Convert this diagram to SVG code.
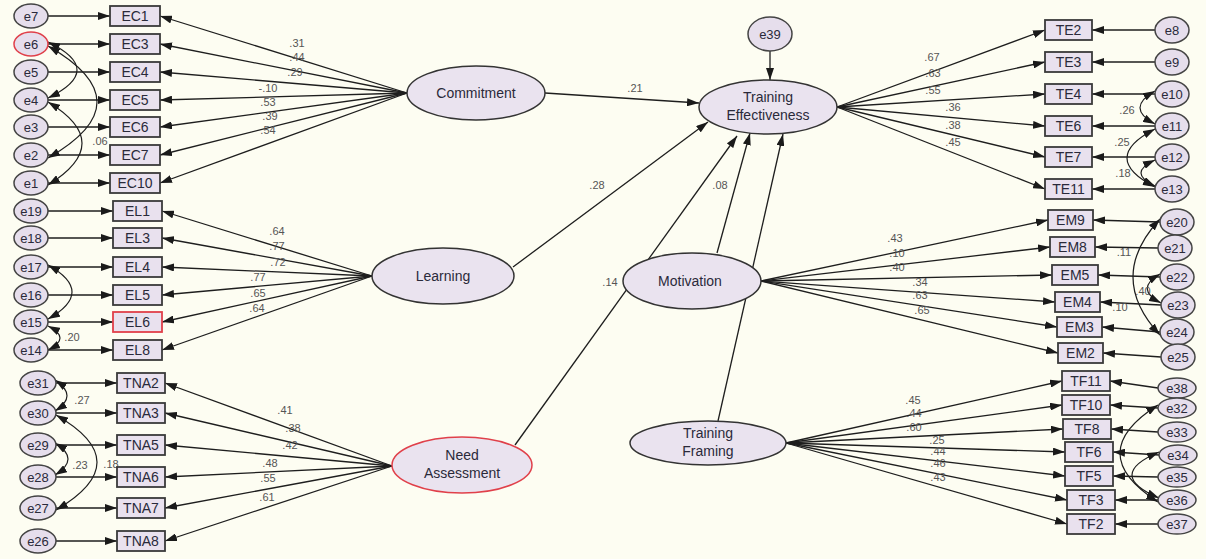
<svg xmlns="http://www.w3.org/2000/svg" width="1206" height="559" viewBox="0 0 1206 559">
<defs>
<marker id="ah" markerUnits="userSpaceOnUse" markerWidth="12" markerHeight="8" refX="12" refY="4" orient="auto-start-reverse"><path d="M0,0 L12,4 L0,8 z" fill="#1a1a1a"/></marker>
<style>
.ln{stroke:#1e1e1e;stroke-width:1.3;fill:none;marker-end:url(#ah)}
.cv{stroke:#1e1e1e;stroke-width:1.2;fill:none;marker-start:url(#ah);marker-end:url(#ah)}
.box{fill:#E9E1EE;stroke:#3a3a3a;stroke-width:1.8}
.lat{fill:#EAE3EF;stroke:#333;stroke-width:1.5}
.err{fill:#E6DEEC;stroke:#444;stroke-width:1.5}
.red{stroke:#E0404A}
text{font-family:"Liberation Sans",Arial,sans-serif;text-anchor:middle;fill:#2a2a3a}
.t{font-size:14px}
.et{font-size:13px}
.c{font-size:11px;fill:#555}
</style>
</defs>
<rect width="1206" height="559" fill="#FDFDF2"/>

<g id="connectors">
<!-- EC errors -->
<line class="ln" x1="48" y1="16" x2="110" y2="16"/>
<line class="ln" x1="48" y1="44" x2="110" y2="44"/>
<line class="ln" x1="48" y1="72" x2="110" y2="72"/>
<line class="ln" x1="48" y1="100" x2="110" y2="100"/>
<line class="ln" x1="48" y1="127" x2="110" y2="127"/>
<line class="ln" x1="48" y1="155" x2="110" y2="155"/>
<line class="ln" x1="48" y1="183" x2="110" y2="183"/>
<!-- EC loadings -->
<line class="ln" x1="407" y1="93" x2="160" y2="16"/>
<line class="ln" x1="407" y1="93" x2="160" y2="44"/>
<line class="ln" x1="407" y1="93" x2="160" y2="72"/>
<line class="ln" x1="407" y1="93" x2="160" y2="100"/>
<line class="ln" x1="407" y1="93" x2="160" y2="127"/>
<line class="ln" x1="407" y1="93" x2="160" y2="155"/>
<line class="ln" x1="407" y1="93" x2="160" y2="183"/>
<path class="cv" d="M48,42 Q106,70 48,98"/>
<path class="cv" d="M48,46 Q146,102 48,158"/>
<path class="cv" d="M48,102 Q116,143 48,185"/>
<!-- EL errors -->
<line class="ln" x1="48" y1="211" x2="113" y2="211"/>
<line class="ln" x1="48" y1="238" x2="113" y2="238"/>
<line class="ln" x1="48" y1="267" x2="113" y2="267"/>
<line class="ln" x1="48" y1="295" x2="113" y2="295"/>
<line class="ln" x1="48" y1="322" x2="113" y2="322"/>
<line class="ln" x1="48" y1="350" x2="113" y2="350"/>
<line class="ln" x1="372" y1="276" x2="162" y2="211"/>
<line class="ln" x1="372" y1="276" x2="162" y2="238"/>
<line class="ln" x1="372" y1="276" x2="162" y2="267"/>
<line class="ln" x1="372" y1="276" x2="162" y2="295"/>
<line class="ln" x1="372" y1="276" x2="162" y2="322"/>
<line class="ln" x1="372" y1="276" x2="162" y2="350"/>
<path class="cv" d="M48,265 Q96,292 48,319"/>
<path class="cv" d="M48,326 Q72,338 48,350"/>
<!-- TNA errors -->
<line class="ln" x1="56" y1="383" x2="117" y2="383"/>
<line class="ln" x1="56" y1="413" x2="117" y2="413"/>
<line class="ln" x1="56" y1="445" x2="117" y2="445"/>
<line class="ln" x1="56" y1="477" x2="117" y2="477"/>
<line class="ln" x1="56" y1="508" x2="117" y2="508"/>
<line class="ln" x1="56" y1="541" x2="117" y2="541"/>
<line class="ln" x1="392" y1="466" x2="165" y2="383"/>
<line class="ln" x1="392" y1="466" x2="165" y2="413"/>
<line class="ln" x1="392" y1="466" x2="165" y2="445"/>
<line class="ln" x1="392" y1="466" x2="165" y2="477"/>
<line class="ln" x1="392" y1="466" x2="165" y2="508"/>
<line class="ln" x1="392" y1="466" x2="165" y2="541"/>
<path class="cv" d="M55,380 Q79,396 55,411"/>
<path class="cv" d="M55,443 Q81,459 55,475"/>
<path class="cv" d="M56,415 Q138,462 56,510"/>
<!-- structural -->
<line class="ln" x1="770" y1="51" x2="770" y2="80"/>
<line class="ln" x1="545" y1="93" x2="699" y2="103"/>
<line class="ln" x1="513" y1="267" x2="708" y2="122"/>
<line class="ln" x1="515" y1="445" x2="737" y2="136"/>
<line class="ln" x1="717" y1="253" x2="750" y2="133"/>
<line class="ln" x1="718" y1="421" x2="783" y2="134"/>
<!-- TE -->
<line class="ln" x1="837" y1="107" x2="1045" y2="30"/>
<line class="ln" x1="837" y1="107" x2="1045" y2="62"/>
<line class="ln" x1="837" y1="107" x2="1045" y2="94"/>
<line class="ln" x1="837" y1="107" x2="1045" y2="126"/>
<line class="ln" x1="837" y1="107" x2="1045" y2="157"/>
<line class="ln" x1="837" y1="107" x2="1045" y2="189"/>
<line class="ln" x1="1155" y1="30" x2="1092" y2="30"/>
<line class="ln" x1="1155" y1="62" x2="1092" y2="62"/>
<line class="ln" x1="1155" y1="94" x2="1092" y2="94"/>
<line class="ln" x1="1155" y1="126" x2="1092" y2="126"/>
<line class="ln" x1="1155" y1="157" x2="1092" y2="157"/>
<line class="ln" x1="1155" y1="189" x2="1092" y2="189"/>
<path class="cv" d="M1155,91 Q1125,108 1155,124"/>
<path class="cv" d="M1155,129 Q1099,158 1155,187"/>
<path class="cv" d="M1155,160 Q1127,173 1155,186"/>
<!-- EM -->
<line class="ln" x1="761" y1="281" x2="1048" y2="220"/>
<line class="ln" x1="761" y1="281" x2="1050" y2="247"/>
<line class="ln" x1="761" y1="281" x2="1052" y2="275"/>
<line class="ln" x1="761" y1="281" x2="1055" y2="302"/>
<line class="ln" x1="761" y1="281" x2="1057" y2="327"/>
<line class="ln" x1="761" y1="281" x2="1058" y2="353"/>
<line class="ln" x1="1160" y1="222" x2="1093" y2="220"/>
<line class="ln" x1="1158" y1="248" x2="1095" y2="247"/>
<line class="ln" x1="1160" y1="277" x2="1098" y2="275"/>
<line class="ln" x1="1161" y1="305" x2="1100" y2="302"/>
<line class="ln" x1="1160" y1="332" x2="1102" y2="327"/>
<line class="ln" x1="1161" y1="357" x2="1103" y2="353"/>
<path class="cv" d="M1160,219 Q1106,277 1160,335"/>
<path class="cv" d="M1160,274 Q1134,289 1161,303"/>
<!-- TF -->
<line class="ln" x1="786" y1="443" x2="1062" y2="381"/>
<line class="ln" x1="786" y1="443" x2="1062" y2="405"/>
<line class="ln" x1="786" y1="443" x2="1063" y2="429"/>
<line class="ln" x1="786" y1="443" x2="1065" y2="452"/>
<line class="ln" x1="786" y1="443" x2="1065" y2="476"/>
<line class="ln" x1="786" y1="443" x2="1067" y2="500"/>
<line class="ln" x1="786" y1="443" x2="1067" y2="524"/>
<line class="ln" x1="1158" y1="388" x2="1110" y2="381"/>
<line class="ln" x1="1158" y1="408" x2="1110" y2="405"/>
<line class="ln" x1="1158" y1="432" x2="1111" y2="429"/>
<line class="ln" x1="1159" y1="455" x2="1113" y2="452"/>
<line class="ln" x1="1158" y1="477" x2="1113" y2="476"/>
<line class="ln" x1="1158" y1="500" x2="1115" y2="500"/>
<line class="ln" x1="1158" y1="524" x2="1115" y2="524"/>
<path class="cv" d="M1158,405 Q1082,453 1158,502"/>
<path class="cv" d="M1159,452 Q1105,475 1159,498"/>
</g>

<g id="coefficients">
<text class="c" x="297" y="47">.31</text>
<text class="c" x="297" y="61">.44</text>
<text class="c" x="295" y="76">.29</text>
<text class="c" x="268" y="92">-.10</text>
<text class="c" x="268" y="106">.53</text>
<text class="c" x="270" y="120">.39</text>
<text class="c" x="268" y="134">.54</text>
<text class="c" x="100" y="145">.06</text>
<text class="c" x="277" y="235">.64</text>
<text class="c" x="277" y="250">.77</text>
<text class="c" x="278" y="266">.72</text>
<text class="c" x="258" y="281">.77</text>
<text class="c" x="258" y="297">.65</text>
<text class="c" x="257" y="312">.64</text>
<text class="c" x="72" y="341">.20</text>
<text class="c" x="285" y="414">.41</text>
<text class="c" x="293" y="432">.38</text>
<text class="c" x="290" y="449">.42</text>
<text class="c" x="270" y="467">.48</text>
<text class="c" x="268" y="482">.55</text>
<text class="c" x="267" y="501">.61</text>
<text class="c" x="82" y="404">.27</text>
<text class="c" x="80" y="469">.23</text>
<text class="c" x="111" y="468">.18</text>
<text class="c" x="635" y="92">.21</text>
<text class="c" x="597" y="189">.28</text>
<text class="c" x="720" y="189">.08</text>
<text class="c" x="610" y="286">.14</text>
<text class="c" x="738" y="274">.21</text>
<text class="c" x="932" y="61">.67</text>
<text class="c" x="933" y="77">.63</text>
<text class="c" x="933" y="94">.55</text>
<text class="c" x="953" y="111">.36</text>
<text class="c" x="953" y="129">.38</text>
<text class="c" x="953" y="146">.45</text>
<text class="c" x="1127" y="114">.26</text>
<text class="c" x="1122" y="146">.25</text>
<text class="c" x="1123" y="177">.18</text>
<text class="c" x="895" y="242">.43</text>
<text class="c" x="897" y="257">.10</text>
<text class="c" x="897" y="271">.40</text>
<text class="c" x="920" y="286">.34</text>
<text class="c" x="920" y="299">.63</text>
<text class="c" x="922" y="314">.65</text>
<text class="c" x="1124" y="256">.11</text>
<text class="c" x="1143" y="295">.40</text>
<text class="c" x="1120" y="311">.10</text>
<text class="c" x="913" y="404">.45</text>
<text class="c" x="914" y="417">.44</text>
<text class="c" x="914" y="431">.60</text>
<text class="c" x="937" y="444">.25</text>
<text class="c" x="938" y="455">.44</text>
<text class="c" x="938" y="467">.46</text>
<text class="c" x="938" y="481">.43</text>
</g>

<!-- EC -->
<g id="e7"><ellipse class="err" cx="31" cy="16" rx="17" ry="12"/><text class="et" x="31" y="21">e7</text></g>
<g id="e6"><ellipse class="err red" cx="31" cy="44" rx="17" ry="12"/><text class="et" x="31" y="49">e6</text></g>
<g id="e5"><ellipse class="err" cx="31" cy="72" rx="17" ry="12"/><text class="et" x="31" y="77">e5</text></g>
<g id="e4"><ellipse class="err" cx="31" cy="100" rx="17" ry="12"/><text class="et" x="31" y="105">e4</text></g>
<g id="e3"><ellipse class="err" cx="31" cy="127" rx="17" ry="12"/><text class="et" x="31" y="132">e3</text></g>
<g id="e2"><ellipse class="err" cx="31" cy="155" rx="17" ry="12"/><text class="et" x="31" y="160">e2</text></g>
<g id="e1"><ellipse class="err" cx="31" cy="183" rx="17" ry="12"/><text class="et" x="31" y="188">e1</text></g>
<g id="EC1"><rect class="box" x="110" y="6" width="50" height="20"/><text class="t" x="135" y="21">EC1</text></g>
<g id="EC3"><rect class="box" x="110" y="34" width="50" height="20"/><text class="t" x="135" y="49">EC3</text></g>
<g id="EC4"><rect class="box" x="110" y="62" width="50" height="20"/><text class="t" x="135" y="77">EC4</text></g>
<g id="EC5"><rect class="box" x="110" y="90" width="50" height="20"/><text class="t" x="135" y="105">EC5</text></g>
<g id="EC6"><rect class="box" x="110" y="117" width="50" height="20"/><text class="t" x="135" y="132">EC6</text></g>
<g id="EC7"><rect class="box" x="110" y="145" width="50" height="20"/><text class="t" x="135" y="160">EC7</text></g>
<g id="EC10"><rect class="box" x="110" y="173" width="50" height="20"/><text class="t" x="135" y="188">EC10</text></g>
<g id="Commitment"><ellipse class="lat" cx="476" cy="93" rx="69" ry="27"/><text class="t" x="476" y="98">Commitment</text></g>

<!-- EL -->
<g id="e19"><ellipse class="err" cx="31" cy="211" rx="17" ry="12"/><text class="et" x="31" y="216">e19</text></g>
<g id="e18"><ellipse class="err" cx="31" cy="238" rx="17" ry="12"/><text class="et" x="31" y="243">e18</text></g>
<g id="e17"><ellipse class="err" cx="31" cy="267" rx="17" ry="12"/><text class="et" x="31" y="272">e17</text></g>
<g id="e16"><ellipse class="err" cx="31" cy="295" rx="17" ry="12"/><text class="et" x="31" y="300">e16</text></g>
<g id="e15"><ellipse class="err" cx="31" cy="322" rx="17" ry="12"/><text class="et" x="31" y="327">e15</text></g>
<g id="e14"><ellipse class="err" cx="31" cy="350" rx="17" ry="12"/><text class="et" x="31" y="355">e14</text></g>
<g id="EL1"><rect class="box" x="113" y="201" width="49" height="20"/><text class="t" x="137.5" y="216">EL1</text></g>
<g id="EL3"><rect class="box" x="113" y="228" width="49" height="20"/><text class="t" x="137.5" y="243">EL3</text></g>
<g id="EL4"><rect class="box" x="113" y="257" width="49" height="20"/><text class="t" x="137.5" y="272">EL4</text></g>
<g id="EL5"><rect class="box" x="113" y="285" width="49" height="20"/><text class="t" x="137.5" y="300">EL5</text></g>
<g id="EL6"><rect class="box red" x="113" y="312" width="49" height="20"/><text class="t" x="137.5" y="327">EL6</text></g>
<g id="EL8"><rect class="box" x="113" y="340" width="49" height="20"/><text class="t" x="137.5" y="355">EL8</text></g>
<g id="Learning"><ellipse class="lat" cx="443" cy="276" rx="71" ry="28"/><text class="t" x="443" y="281">Learning</text></g>

<!-- TNA -->
<g id="e31"><ellipse class="err" cx="38" cy="383" rx="18" ry="12"/><text class="et" x="38" y="388">e31</text></g>
<g id="e30"><ellipse class="err" cx="38" cy="413" rx="18" ry="12"/><text class="et" x="38" y="418">e30</text></g>
<g id="e29"><ellipse class="err" cx="38" cy="445" rx="18" ry="12"/><text class="et" x="38" y="450">e29</text></g>
<g id="e28"><ellipse class="err" cx="38" cy="477" rx="18" ry="12"/><text class="et" x="38" y="482">e28</text></g>
<g id="e27"><ellipse class="err" cx="38" cy="508" rx="18" ry="12"/><text class="et" x="38" y="513">e27</text></g>
<g id="e26"><ellipse class="err" cx="38" cy="541" rx="18" ry="12"/><text class="et" x="38" y="546">e26</text></g>
<g id="TNA2"><rect class="box" x="117" y="373" width="48" height="20"/><text class="t" x="141" y="388">TNA2</text></g>
<g id="TNA3"><rect class="box" x="117" y="403" width="48" height="20"/><text class="t" x="141" y="418">TNA3</text></g>
<g id="TNA5"><rect class="box" x="117" y="435" width="48" height="20"/><text class="t" x="141" y="450">TNA5</text></g>
<g id="TNA6"><rect class="box" x="117" y="467" width="48" height="20"/><text class="t" x="141" y="482">TNA6</text></g>
<g id="TNA7"><rect class="box" x="117" y="498" width="48" height="20"/><text class="t" x="141" y="513">TNA7</text></g>
<g id="TNA8"><rect class="box" x="117" y="531" width="48" height="20"/><text class="t" x="141" y="546">TNA8</text></g>
<g id="NeedAssessment"><ellipse class="lat red" cx="462" cy="465" rx="70" ry="28"/><text class="t" x="462" y="460">Need</text><text class="t" x="462" y="478">Assessment</text></g>

<!-- TE -->
<g id="e39"><ellipse class="err" cx="770" cy="34" rx="22" ry="17"/><text class="et" x="770" y="39">e39</text></g>
<g id="TrainingEffectiveness"><ellipse class="lat" cx="768" cy="107" rx="69" ry="27"/><text class="t" x="768" y="102">Training</text><text class="t" x="768" y="120">Effectiveness</text></g>
<g id="TE2"><rect class="box" x="1045" y="20" width="47" height="20"/><text class="t" x="1068.5" y="35">TE2</text></g>
<g id="TE3"><rect class="box" x="1045" y="52" width="47" height="20"/><text class="t" x="1068.5" y="67">TE3</text></g>
<g id="TE4"><rect class="box" x="1045" y="84" width="47" height="20"/><text class="t" x="1068.5" y="99">TE4</text></g>
<g id="TE6"><rect class="box" x="1045" y="116" width="47" height="20"/><text class="t" x="1068.5" y="131">TE6</text></g>
<g id="TE7"><rect class="box" x="1045" y="147" width="47" height="20"/><text class="t" x="1068.5" y="162">TE7</text></g>
<g id="TE11"><rect class="box" x="1045" y="179" width="47" height="20"/><text class="t" x="1068.5" y="194">TE11</text></g>
<g id="e8"><ellipse class="err" cx="1172" cy="30" rx="17" ry="13"/><text class="et" x="1172" y="35">e8</text></g>
<g id="e9"><ellipse class="err" cx="1172" cy="62" rx="17" ry="13"/><text class="et" x="1172" y="67">e9</text></g>
<g id="e10"><ellipse class="err" cx="1172" cy="94" rx="17" ry="13"/><text class="et" x="1172" y="99">e10</text></g>
<g id="e11"><ellipse class="err" cx="1172" cy="126" rx="17" ry="13"/><text class="et" x="1172" y="131">e11</text></g>
<g id="e12"><ellipse class="err" cx="1172" cy="157" rx="17" ry="13"/><text class="et" x="1172" y="162">e12</text></g>
<g id="e13"><ellipse class="err" cx="1172" cy="189" rx="17" ry="13"/><text class="et" x="1172" y="194">e13</text></g>

<!-- EM -->
<g id="Motivation"><ellipse class="lat" cx="692" cy="281" rx="69" ry="28"/><text class="t" x="690" y="286">Motivation</text></g>
<g id="EM9"><rect class="box" x="1048" y="210" width="45" height="20"/><text class="t" x="1070.5" y="225">EM9</text></g>
<g id="EM8"><rect class="box" x="1050" y="237" width="45" height="20"/><text class="t" x="1072.5" y="252">EM8</text></g>
<g id="EM5"><rect class="box" x="1052" y="265" width="46" height="20"/><text class="t" x="1075" y="280">EM5</text></g>
<g id="EM4"><rect class="box" x="1055" y="292" width="45" height="20"/><text class="t" x="1077.5" y="307">EM4</text></g>
<g id="EM3"><rect class="box" x="1057" y="317" width="45" height="20"/><text class="t" x="1079.5" y="332">EM3</text></g>
<g id="EM2"><rect class="box" x="1058" y="343" width="45" height="20"/><text class="t" x="1080.5" y="358">EM2</text></g>
<g id="e20"><ellipse class="err" cx="1177" cy="222" rx="17" ry="13"/><text class="et" x="1177" y="227">e20</text></g>
<g id="e21"><ellipse class="err" cx="1175" cy="248" rx="17" ry="13"/><text class="et" x="1175" y="253">e21</text></g>
<g id="e22"><ellipse class="err" cx="1177" cy="277" rx="17" ry="13"/><text class="et" x="1177" y="282">e22</text></g>
<g id="e23"><ellipse class="err" cx="1178" cy="305" rx="17" ry="13"/><text class="et" x="1178" y="310">e23</text></g>
<g id="e24"><ellipse class="err" cx="1177" cy="332" rx="17" ry="13"/><text class="et" x="1177" y="337">e24</text></g>
<g id="e25"><ellipse class="err" cx="1178" cy="357" rx="17" ry="13"/><text class="et" x="1178" y="362">e25</text></g>

<!-- TF -->
<g id="TrainingFraming"><ellipse class="lat" cx="708" cy="443" rx="78" ry="22"/><text class="t" x="708" y="438">Training</text><text class="t" x="708" y="456">Framing</text></g>
<g id="TF11"><rect class="box" x="1062" y="371" width="48" height="20"/><text class="t" x="1086" y="386">TF11</text></g>
<g id="TF10"><rect class="box" x="1062" y="395" width="48" height="20"/><text class="t" x="1086" y="410">TF10</text></g>
<g id="TF8"><rect class="box" x="1063" y="419" width="48" height="20"/><text class="t" x="1087" y="434">TF8</text></g>
<g id="TF6"><rect class="box" x="1065" y="442" width="48" height="20"/><text class="t" x="1089" y="457">TF6</text></g>
<g id="TF5"><rect class="box" x="1065" y="466" width="48" height="20"/><text class="t" x="1089" y="481">TF5</text></g>
<g id="TF3"><rect class="box" x="1067" y="490" width="48" height="20"/><text class="t" x="1091" y="505">TF3</text></g>
<g id="TF2"><rect class="box" x="1067" y="514" width="48" height="20"/><text class="t" x="1091" y="529">TF2</text></g>
<g id="e38"><ellipse class="err" cx="1177" cy="388" rx="19" ry="10"/><text class="et" x="1177" y="393">e38</text></g>
<g id="e32"><ellipse class="err" cx="1177" cy="408" rx="19" ry="10"/><text class="et" x="1177" y="413">e32</text></g>
<g id="e33"><ellipse class="err" cx="1177" cy="432" rx="19" ry="10"/><text class="et" x="1177" y="437">e33</text></g>
<g id="e34"><ellipse class="err" cx="1178" cy="455" rx="19" ry="10"/><text class="et" x="1178" y="460">e34</text></g>
<g id="e35"><ellipse class="err" cx="1177" cy="477" rx="19" ry="10"/><text class="et" x="1177" y="482">e35</text></g>
<g id="e36"><ellipse class="err" cx="1177" cy="500" rx="19" ry="10"/><text class="et" x="1177" y="505">e36</text></g>
<g id="e37"><ellipse class="err" cx="1177" cy="524" rx="19" ry="10"/><text class="et" x="1177" y="529">e37</text></g>
</svg>
